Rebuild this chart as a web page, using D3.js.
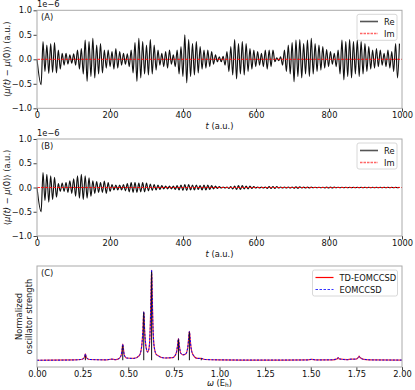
<!DOCTYPE html>
<html>
<head>
<meta charset="utf-8">
<script src="https://cdn.jsdelivr.net/npm/d3@7"></script>
<style>
  body { margin: 0; background: #fff; }
  text { font-family: "DejaVu Sans", sans-serif; }
</style>
</head>
<body>
<svg id="chart" width="415" height="390"></svg>
<script>
// sampling of the time traces: one extremum every half period
const tStart = 16.5
const tPeriod = 10.5

// panel A, peak maxima and the minima just before each of them (units 1e-6 a.u.)
const reA_max = [0.36,0.29,0.32,0.34,0.19,0.12,0.12,0.09,0.11,0.19,
  0.22,0.39,0.36,0.43,0.29,0.32,0.19,0.19,0.16,0.22,
  0.16,0.12,0.11,0.19,0.34,0.43,0.36,0.29,0.40,0.29,
  0.19,0.12,0.16,0.19,0.09,0.19,0.26,0.50,0.40,0.32,
  0.36,0.26,0.19,0.19,0.16,0.09,0.05,0.06,0.16,0.26,
  0.40,0.32,0.36,0.32,0.22,0.19,0.16,0.12,0.19,0.19,
  0.19,0.03,0.05,0.19,0.29,0.34,0.39,0.40,0.32,0.39,
  0.43,0.32,0.29,0.26,0.20,0.16,0.12,0.19,0.39,0.36,
  0.40,0.36,0.39,0.36,0.32,0.26,0.19,0.22,0.19,0.12,
  0.19,0.16,0.32,0.32]
const reA_min = [-0.52,-0.25,-0.29,-0.27,-0.28,-0.20,-0.12,-0.10,-0.08,-0.12,
  -0.20,-0.30,-0.45,-0.35,-0.38,-0.30,-0.28,-0.18,-0.15,-0.20,
  -0.18,-0.12,-0.10,-0.15,-0.28,-0.45,-0.38,-0.30,-0.32,-0.30,
  -0.22,-0.12,-0.15,-0.18,-0.10,-0.15,-0.30,-0.35,-0.48,-0.35,
  -0.32,-0.28,-0.20,-0.18,-0.15,-0.10,-0.05,-0.05,-0.12,-0.25,
  -0.32,-0.40,-0.30,-0.32,-0.25,-0.20,-0.15,-0.12,-0.15,-0.20,
  -0.15,-0.05,-0.03,-0.12,-0.25,-0.30,-0.46,-0.35,-0.38,-0.30,
  -0.35,-0.30,-0.25,-0.22,-0.18,-0.15,-0.10,-0.15,-0.30,-0.42,
  -0.35,-0.38,-0.30,-0.35,-0.30,-0.25,-0.20,-0.18,-0.15,-0.12,
  -0.15,-0.18,-0.25,-0.38]

// panel B, damped trace
const reB_max = [0.31,0.27,0.24,0.21,0.08,0.09,0.10,0.14,0.18,0.24,
  0.27,0.24,0.20,0.14,0.12,0.10,0.13,0.10,0.06,0.05,
  0.05,0.06,0.08,0.10,0.10,0.09,0.10,0.09,0.07,0.06,
  0.05,0.04,0.03,0.03,0.03,0.04,0.05,0.06,0.06,0.05,
  0.05,0.04,0.05,0.05,0.04,0.03,0.02,0.01,0.01,0.02,
  0.03,0.04,0.04,0.03,0.03,0.02,0.01,0.01,0.01,0.02,
  0.02,0.02,0.01,0.01,0.01,0.01,0.015,0.015,0.01,0.01,
  0.01,0.005,0.005,0.005,0.01,0.01,0.01,0.005,0.005,0.005,
  0.005,0.005,0.005,0.005,0.005,0.005,0.005,0.005,0.005,0.005,
  0.005,0.005,0.005,0.005]
const reB_min = [-0.50,-0.27,-0.30,-0.25,-0.20,-0.08,-0.08,-0.10,-0.12,-0.18,
  -0.22,-0.25,-0.22,-0.18,-0.12,-0.10,-0.10,-0.12,-0.08,-0.05,
  -0.05,-0.05,-0.07,-0.09,-0.10,-0.10,-0.09,-0.09,-0.07,-0.06,
  -0.05,-0.04,-0.03,-0.03,-0.03,-0.04,-0.05,-0.06,-0.06,-0.05,
  -0.05,-0.04,-0.05,-0.05,-0.04,-0.03,-0.02,-0.01,-0.01,-0.02,
  -0.03,-0.04,-0.04,-0.03,-0.03,-0.02,-0.01,-0.01,-0.01,-0.02,
  -0.02,-0.02,-0.01,-0.01,-0.01,-0.01,-0.015,-0.015,-0.01,-0.01,
  -0.01,-0.005,-0.005,-0.005,-0.01,-0.01,-0.01,-0.005,-0.005,-0.005,
  -0.005,-0.005,-0.005,-0.005,-0.005,-0.005,-0.005,-0.005,-0.005,-0.005,
  -0.005,-0.005,-0.005,-0.005]

// imaginary part stays at zero
const imTimes = [0, 1000]
const imValues = [0, 0]

// panel C spectrum
const omega = [0.00,0.20,0.24,0.255,0.261,0.265,0.269,0.275,0.29,0.38,
  0.41,0.43,0.45,0.462,0.466,0.470,0.474,0.478,0.49,0.53,
  0.56,0.572,0.580,0.585,0.590,0.598,0.607,0.615,0.621,0.625,
  0.628,0.631,0.635,0.642,0.655,0.70,0.745,0.763,0.770,0.775,
  0.780,0.787,0.80,0.815,0.826,0.831,0.835,0.839,0.844,0.855,
  0.88,0.90,0.92,1.00,1.20,1.48,1.505,1.53,1.62,1.645,
  1.65,1.655,1.70,1.72,1.745,1.76,1.765,1.77,1.79,1.85,2.00]
const tdIntensity = [0.000,0.003,0.008,0.02,0.04,0.07,0.04,0.02,0.008,0.004,
  0.012,0.006,0.02,0.06,0.12,0.18,0.12,0.06,0.025,0.02,
  0.05,0.13,0.32,0.54,0.32,0.14,0.09,0.15,0.40,0.75,
  1.00,0.75,0.40,0.15,0.06,0.025,0.03,0.08,0.16,0.24,
  0.16,0.08,0.06,0.07,0.14,0.24,0.32,0.24,0.14,0.06,
  0.02,0.02,0.008,0.004,0.002,0.003,0.01,0.003,0.005,0.015,
  0.03,0.015,0.006,0.012,0.012,0.03,0.045,0.03,0.01,0.003,0.002]
const eomIntensity = tdIntensity.slice()
const stickOmega = [0.265, 0.47, 0.585, 0.628, 0.775, 0.835, 0.90]
const stickHeight = [0.05, 0.16, 0.53, 0.98, 0.23, 0.31, 0.02]

const xTicksT = [0, 200, 400, 600, 800, 1000]
const yTicksMu = [-1.0, -0.5, 0.0, 0.5, 1.0]
const xTicksW = [0, 0.25, 0.5, 0.75, 1.0, 1.25, 1.5, 1.75, 2.0]

const FS = 8.3
const LEFT = 37
const RIGHT = 402
const svg = d3.select('#chart')

function tracePoints(maxs, mins) {
  const pts = [{t: 0, v: 0}]
  for (let k = 0; k < maxs.length; k++) {
    const tp = tStart + k * tPeriod
    pts.push({t: tp - tPeriod / 2, v: mins[k]})
    pts.push({t: tp, v: maxs[k]})
  }
  return pts
}

function drawFrame(g, x, y, top, bottom, xTicks, xFormat) {
  g.append('g')
    .attr('transform', 'translate(0,' + bottom + ')')
    .call(d3.axisBottom(x).tickValues(xTicks).tickFormat(xFormat).tickSize(3.5).tickPadding(0.5))
    .call(a => a.select('.domain').remove())
    .call(a => a.selectAll('line').attr('stroke', '#444'))
    .call(a => a.selectAll('text').attr('font-size', FS).attr('fill', '#111').attr('font-family', 'DejaVu Sans'))
  g.append('rect')
    .attr('x', LEFT)
    .attr('y', top)
    .attr('width', RIGHT - LEFT)
    .attr('height', bottom - top)
    .attr('fill', 'none')
    .attr('stroke', '#aaa')
    .attr('stroke-width', 1)
}

function drawLegend(g, x0, y0, w, entries) {
  const box = g.append('g').attr('class', 'legend')
  box.append('rect')
    .attr('x', x0).attr('y', y0)
    .attr('width', w).attr('height', entries.length * 12 + 2)
    .attr('rx', 2)
    .attr('fill', '#fff').attr('fill-opacity', 0.85)
    .attr('stroke', '#d8d8d8')
  entries.forEach((e, i) => {
    const yy = Math.round(y0 + 6.5 + i * 12) + 0.5
    box.append('line')
      .attr('x1', x0 + 3).attr('x2', x0 + 21)
      .attr('y1', yy).attr('y2', yy)
      .attr('stroke', e.color)
      .attr('stroke-width', e.width)
      .attr('stroke-dasharray', e.dash)
    box.append('text')
      .attr('x', x0 + 27).attr('y', yy)
      .attr('dominant-baseline', 'central')
      .attr('font-size', FS)
      .attr('fill', '#111')
      .text(e.label)
  })
}

function drawTimePanel(top, bottom, maxs, mins, tag) {
  const g = svg.append('g').attr('class', 'panel-' + tag)
  const x = d3.scaleLinear().domain([0, 1000]).range([LEFT, RIGHT])
  const y = d3.scaleLinear().domain([-1, 1]).range([bottom, top])

  g.append('g')
    .attr('transform', 'translate(' + LEFT + ',0)')
    .call(d3.axisLeft(y).tickValues(yTicksMu).tickFormat(d3.format('.1f')).tickSize(3.5).tickPadding(1.5))
    .call(a => a.select('.domain').remove())
    .call(a => a.selectAll('line').attr('stroke', '#444'))
    .call(a => a.selectAll('text').attr('font-size', FS).attr('fill', '#111').attr('font-family', 'DejaVu Sans'))

  const line = d3.line().x(d => x(d.t)).y(d => y(d.v)).curve(d3.curveMonotoneX)
  g.append('path')
    .datum(tracePoints(maxs, mins))
    .attr('d', line)
    .attr('fill', 'none')
    .attr('stroke', '#111')
    .attr('stroke-width', 1.15)

  g.append('path')
    .datum(imTimes.map((t, i) => ({t: t, v: imValues[i]})))
    .attr('d', line)
    .attr('fill', 'none')
    .attr('stroke', '#f00')
    .attr('stroke-opacity', 0.85)
    .attr('stroke-width', 1)
    .attr('stroke-dasharray', '3,1')

  drawFrame(g, x, y, top, bottom, xTicksT, d3.format('d'))

  g.append('text')
    .attr('x', LEFT).attr('y', top - 3)
    .attr('font-size', FS)
    .attr('fill', '#111')
    .text('1e\u22126')
  g.append('text')
    .attr('x', LEFT + 4).attr('y', top + 10)
    .attr('font-size', FS)
    .attr('fill', '#111')
    .text('(' + tag + ')')

  const xl = g.append('text')
    .attr('x', (LEFT + RIGHT) / 2).attr('y', bottom + 20.5)
    .attr('text-anchor', 'middle')
    .attr('font-size', FS)
    .attr('fill', '#111')
  xl.append('tspan').attr('font-style', 'italic').text('t')
  xl.append('tspan').text(' (a.u.)')

  const yl = g.append('text')
    .attr('transform', 'translate(10,' + (top + bottom) / 2 + ') rotate(-90)')
    .attr('text-anchor', 'middle')
    .attr('font-size', FS)
    .attr('fill', '#111')
  yl.append('tspan').text('\u27e8')
  yl.append('tspan').attr('font-style', 'italic').text('\u03bc(t)')
  yl.append('tspan').text(' \u2212 ')
  yl.append('tspan').attr('font-style', 'italic').text('\u03bc')
  yl.append('tspan').text('(0)\u27e9 (a.u.)')

  drawLegend(g, 357, top + 4, 40, [
    {label: 'Re', color: '#555', width: 1.6, dash: null},
    {label: 'Im', color: '#f66', width: 1.3, dash: '2.5,1'}
  ])
}

function drawSpectrumPanel(top, bottom) {
  const g = svg.append('g').attr('class', 'panel-C')
  const x = d3.scaleLinear().domain([0, 2]).range([LEFT, RIGHT])
  const y = d3.scaleLinear().domain([-0.075, 1.045]).range([bottom, top])

  const line = d3.line().x(d => x(d.w)).y(d => y(d.v)).curve(d3.curveMonotoneX)
  g.append('path')
    .datum(omega.map((w, i) => ({w: w, v: tdIntensity[i]})))
    .attr('d', line)
    .attr('fill', 'none')
    .attr('stroke', '#f00')
    .attr('stroke-opacity', 0.8)
    .attr('stroke-width', 1.2)
  g.append('path')
    .datum(omega.map((w, i) => ({w: w, v: eomIntensity[i]})))
    .attr('d', line)
    .attr('fill', 'none')
    .attr('stroke', '#00f')
    .attr('stroke-width', 1)
    .attr('stroke-dasharray', '2,1.5')

  g.selectAll('.stick')
    .data(stickOmega)
    .join('line')
    .attr('class', 'stick')
    .attr('x1', d => x(d)).attr('x2', d => x(d))
    .attr('y1', y(0))
    .attr('y2', (d, i) => y(stickHeight[i]))
    .attr('stroke', '#111')
    .attr('stroke-width', 1)

  drawFrame(g, x, y, top, bottom, xTicksW, d3.format('.2f'))

  g.append('text')
    .attr('x', LEFT + 4).attr('y', top + 10)
    .attr('font-size', FS)
    .attr('fill', '#111')
    .text('(C)')

  const xl = g.append('text')
    .attr('x', (LEFT + RIGHT) / 2).attr('y', bottom + 18.5)
    .attr('text-anchor', 'middle')
    .attr('font-size', FS)
    .attr('fill', '#111')
  xl.append('tspan').attr('font-style', 'italic').text('\u03c9')
  xl.append('tspan').text(' (E')
  xl.append('tspan').attr('font-size', FS * 0.7).attr('dy', 1.5).text('h')
  xl.append('tspan').attr('dy', -1.5).text(')')

  const yl = g.append('text')
    .attr('transform', 'translate(22,' + (top + bottom) / 2 + ') rotate(-90)')
    .attr('text-anchor', 'middle')
    .attr('font-size', FS)
    .attr('fill', '#111')
  yl.append('tspan').attr('x', 0).attr('dy', 0).text('Normalized')
  yl.append('tspan').attr('x', 0).attr('dy', 9.5).text('oscillator strength')

  drawLegend(g, 312.5, top + 4, 85, [
    {label: 'TD-EOMCCSD', color: '#f00', width: 1.2, dash: null},
    {label: 'EOMCCSD', color: '#33f', width: 1.2, dash: '2.5,1.5'}
  ])
}

drawTimePanel(10.3, 108.3, reA_max, reA_min, 'A')
drawTimePanel(139, 236, reB_max, reB_min, 'B')
drawSpectrumPanel(266, 367)
</script>
</body>
</html>
